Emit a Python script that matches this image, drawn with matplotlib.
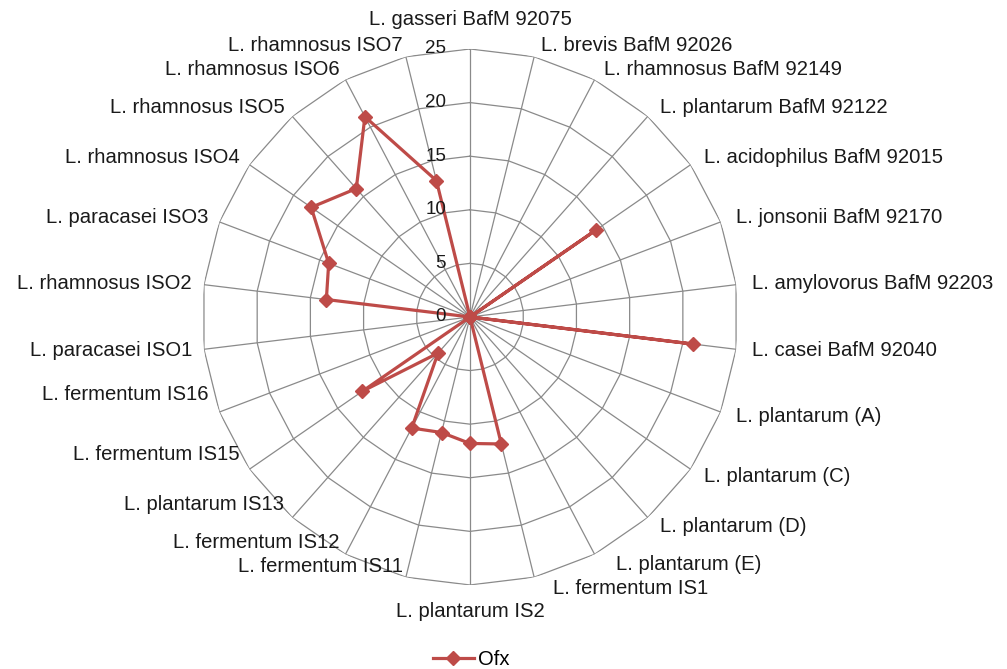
import numpy as np
import matplotlib.pyplot as plt
from matplotlib.lines import Line2D

plt.rcParams["font.family"] = ["Liberation Sans", "DejaVu Sans"]

# Strains, clockwise from the top spoke
strains = [
    "L. gasseri BafM 92075", "L. brevis BafM 92026", "L. rhamnosus BafM 92149",
    "L. plantarum BafM 92122", "L. acidophilus BafM 92015", "L. jonsonii BafM 92170",
    "L. amylovorus BafM 92203", "L. casei BafM 92040", "L. plantarum (A)",
    "L. plantarum (C)", "L. plantarum (D)", "L. plantarum (E)", "L. fermentum IS1",
    "L. plantarum IS2", "L. fermentum IS11", "L. fermentum IS12", "L. plantarum IS13",
    "L. fermentum IS15", "L. fermentum IS16", "L. paracasei ISO1", "L. rhamnosus ISO2",
    "L. paracasei ISO3", "L. rhamnosus ISO4", "L. rhamnosus ISO5", "L. rhamnosus ISO6",
    "L. rhamnosus ISO7",
]
ofx = [0, 0, 0, 0, 14.3, 0, 0, 21.0, 0, 0, 0, 0, 12.2,
       11.8, 11.1, 11.7, 4.5, 12.2, 0, 0, 13.5, 14.1, 18.0, 16.0, 21.1, 13.1]
r_ticks = [0, 5, 10, 15, 20, 25]
series_name = "Ofx"

RED = "#BE4B48"
GRID = "#8A8A8A"
FS = 14.6

fig = plt.figure(figsize=(10.07, 6.69), dpi=100)
ax = fig.add_axes([0.2006, 0.1256, 0.5323, 0.8012], projection="polar")
ax.set_theta_zero_location("N")
ax.set_theta_direction(-1)
ax.set_ylim(0, r_ticks[-1])
ax.grid(False)
ax.set_xticks([])
ax.set_yticks([])
ax.spines["polar"].set_visible(False)
ax.patch.set_visible(False)

n = len(strains)
theta = np.arange(n) * 2 * np.pi / n
closed = np.append(theta, theta[0])

# polygon gridlines + spokes, Excel style
for r in r_ticks[1:]:
    ax.plot(closed, np.full(n + 1, r), color=GRID, lw=0.9, zorder=1)
for t in theta:
    ax.plot([t, t], [0, r_ticks[-1]], color=GRID, lw=0.9, zorder=1)

ax.plot(closed, np.append(ofx, ofx[0]), color=RED, lw=2.3, marker="D",
        ms=7, zorder=3, clip_on=False)

for r in r_ticks:
    ax.annotate(str(r), xy=(0, r), xytext=(-24, 0), textcoords="offset pixels",
                ha="right", va="center", fontsize=13.5, color="#1a1a1a")

# category labels around the outer ring
for i, (t, name) in enumerate(zip(theta, strains)):
    s, c = np.sin(t), np.cos(t)
    if i == 0:
        ha, dx, dy = "center", 0, 29
    elif i == n // 2:
        ha, dx, dy = "center", 0, -27
    elif s > 0:
        ha, dx, dy = "left", 4 + 12 * s, 12 * c
        if c < -0.8:
            dx += 12
    else:
        ha, dx, dy = "right", 12 * s, 12 * c
        if c < -0.3:
            dy += 22
    ax.annotate(name, xy=(t, r_ticks[-1]), xytext=(dx, dy),
                textcoords="offset pixels", ha=ha, va="center",
                fontsize=FS, color="#1a1a1a", annotation_clip=False)

handle = Line2D([], [], color=RED, lw=2.3, marker="D", ms=7)
fig.legend(handles=[handle], labels=[series_name], loc="lower center",
           bbox_to_anchor=(0.468, -0.027), frameon=False, fontsize=FS,
           handlelength=2.0, handletextpad=0.2)

fig.savefig("out.png", dpi=100, facecolor="white")
